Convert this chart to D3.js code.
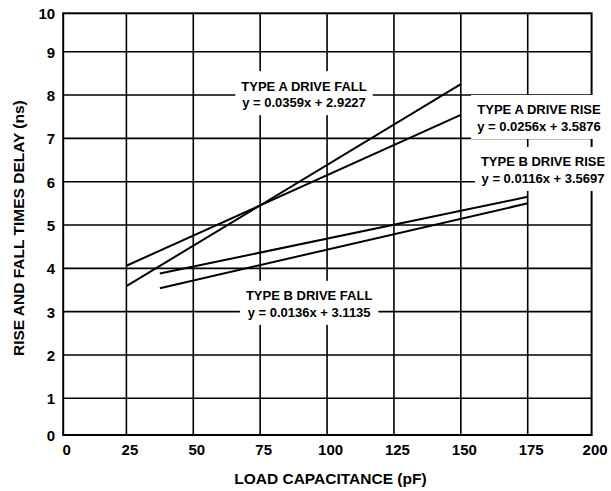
<!DOCTYPE html>
<html>
<head>
<meta charset="utf-8">
<script src="https://cdn.jsdelivr.net/npm/d3@7"></script>
<style>
  html, body { margin: 0; padding: 0; background: #fff; }
  svg { display: block; }
  text { font-family: "Liberation Sans", Arial, Helvetica, sans-serif; font-weight: bold; fill: #000; }
</style>
</head>
<body>
<svg id="chart" width="611" height="491"></svg>
<script>
// Axis ticks
const xTicks = [0, 25, 50, 75, 100, 125, 150, 175, 200];
const yTicks = [0, 1, 2, 3, 4, 5, 6, 7, 8, 9, 10];

// Fitted delay lines: names, equations and end points (pF, ns)
const seriesNames = ["TYPE A DRIVE FALL", "TYPE A DRIVE RISE", "TYPE B DRIVE RISE", "TYPE B DRIVE FALL"];
const equations = ["y = 0.0359x + 2.9227", "y = 0.0256x + 3.5876", "y = 0.0116x + 3.5697", "y = 0.0136x + 3.1135"];
const startLoad = [25, 25, 37.5, 37.5];
const startDelay = [3.59, 4.06, 3.88, 3.54];
const endLoad = [150, 150, 175, 175];
const endDelay = [8.25, 7.54, 5.65, 5.50];

// Where each two-line annotation sits (data units)
const labelLoad = [91.4, 179.4, 181, 93.3];
const labelDelay = [8.02, 7.47, 6.27, 3.18];

const svg = d3.select("#chart");

// Grid spacing is slightly tighter in the outer cells of the frame
const x = d3.scaleLinear().domain([0, 25, 175, 200]).range([63.2, 126.4, 527.7, 591.6]);
const y = d3.scaleLinear().domain([0, 1, 9, 10]).range([435, 398.3, 51.7, 13.3]);

const x0 = x(0), x1 = x(200), y0 = y(0), y1 = y(10);

// Grid
const grid = svg.append("g").attr("stroke", "#000").attr("stroke-width", 1.6);
grid.selectAll("line.v").data(xTicks.slice(1, -1)).join("line")
  .attr("class", "v")
  .attr("x1", d => x(d)).attr("x2", d => x(d))
  .attr("y1", y0).attr("y2", y1);
grid.selectAll("line.h").data(yTicks.slice(1, -1)).join("line")
  .attr("class", "h")
  .attr("x1", x0).attr("x2", x1)
  .attr("y1", d => y(d)).attr("y2", d => y(d));

// Frame
svg.append("rect")
  .attr("x", x0).attr("y", y1)
  .attr("width", x1 - x0).attr("height", y0 - y1)
  .attr("fill", "none").attr("stroke", "#000").attr("stroke-width", 2);

// Delay lines
const lines = svg.append("g");
seriesNames.forEach((name, i) => {
  const pts = [[startLoad[i], startDelay[i]], [endLoad[i], endDelay[i]]];
  lines.append("path")
    .datum(pts)
    .attr("fill", "none")
    .attr("stroke", "#000")
    .attr("stroke-width", 2)
    .attr("d", d3.line().x(d => x(d[0])).y(d => y(d[1])));
});

// Annotations with white backing so the grid breaks around them
const ann = svg.append("g");
seriesNames.forEach((name, i) => {
  const cx = x(labelLoad[i]);
  const cy = y(labelDelay[i]);
  const g = ann.append("g");
  const box = g.append("rect").attr("fill", "#fff");
  const t1 = g.append("text").attr("x", cx).attr("y", cy - 3.5)
    .attr("text-anchor", "middle").attr("font-size", 13).text(name);
  const t2 = g.append("text").attr("x", cx).attr("y", cy + 13)
    .attr("text-anchor", "middle").attr("font-size", 13).text(equations[i]);
  const w = Math.max(t1.node().getComputedTextLength(), t2.node().getComputedTextLength());
  box.attr("x", cx - w / 2 - 6).attr("width", w + 12)
    .attr("y", cy - 23).attr("height", 44);
});

// Tick labels
const xAxis = d3.axisBottom(x).tickValues(xTicks).tickSize(0).tickPadding(0).tickFormat(d3.format("d"));
const gx = svg.append("g").attr("transform", `translate(3,${y0 + 20})`).call(xAxis);
gx.select(".domain").remove();
gx.selectAll("text").attr("dy", 0).attr("y", 0)
  .attr("font-size", 15).attr("fill", "#000");

const yAxis = d3.axisLeft(y).tickValues(yTicks).tickSize(0).tickPadding(8).tickFormat(d3.format("d"));
const gy = svg.append("g").attr("transform", `translate(${x0},0)`).call(yAxis);
gy.select(".domain").remove();
gy.selectAll("text").attr("dy", "0.36em")
  .attr("font-size", 15).attr("fill", "#000");
gx.attr("font-family", null); gy.attr("font-family", null);

// Axis titles
svg.append("text")
  .attr("x", (x0 + x1) / 2 + 3).attr("y", 484)
  .attr("text-anchor", "middle").attr("font-size", 15.5)
  .text("LOAD CAPACITANCE (pF)");
svg.append("text")
  .attr("transform", `translate(24,${(y0 + y1) / 2 + 4}) rotate(-90)`)
  .attr("text-anchor", "middle").attr("font-size", 15.5)
  .text("RISE AND FALL TIMES DELAY (ns)");
</script>
</body>
</html>
